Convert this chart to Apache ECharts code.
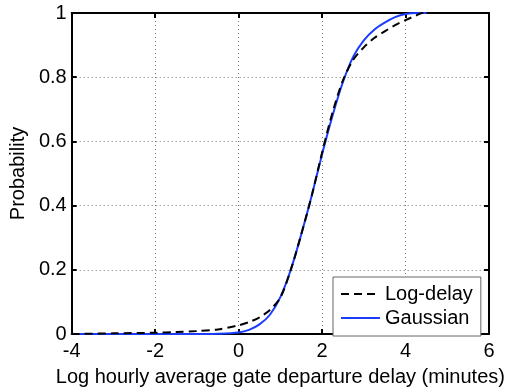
<!DOCTYPE html>
<html>
<head>
<meta charset="utf-8">
<script src="https://cdn.jsdelivr.net/npm/echarts@6/dist/echarts.min.js"></script>
<style>
html,body{margin:0;padding:0;background:#fff;}
#c{width:510px;height:392px;}
</style>
</head>
<body>
<div id="c"></div>
<script>
// Data
var logDelayX = [-4, -3, -2, -1.5, -1, -0.5, 0, 0.25, 0.5, 0.75, 1.0, 1.25, 1.5, 1.75, 2.0, 2.25, 2.5, 2.75, 3.0, 3.25, 3.5, 3.75, 4.0, 4.25, 4.4, 4.75];
var logDelayY = [0, 0.002, 0.004, 0.006, 0.009, 0.014, 0.027, 0.037, 0.052, 0.075, 0.113, 0.2, 0.31, 0.43, 0.565, 0.69, 0.79, 0.855, 0.893, 0.922, 0.943, 0.962, 0.978, 0.992, 1.0, 1.0];
var gaussX = [-4, -1, -0.5, 0, 0.25, 0.5, 0.75, 1.0, 1.25, 1.5, 1.75, 2.0, 2.25, 2.5, 2.75, 3.0, 3.25, 3.5, 3.75, 4.0, 4.25, 4.5];
var gaussY = [0, 0, 0.001, 0.005, 0.013, 0.03, 0.06, 0.115, 0.2, 0.31, 0.43, 0.56, 0.68, 0.785, 0.865, 0.915, 0.948, 0.97, 0.987, 0.997, 1.0, 1.0];
var xTicks = [-4, -2, 0, 2, 4, 6];
var yTicks = [0, 0.2, 0.4, 0.6, 0.8, 1];
var seriesNames = ['Log-delay', 'Gaussian'];
var xLabel = 'Log hourly average gate departure delay (minutes)';
var yLabel = 'Probability';

function pairs(xs, ys){ return xs.map(function(x,i){ return [x, ys[i]]; }); }

var font = 'Liberation Sans, Arial, sans-serif';
var chart = echarts.init(document.getElementById('c'), null, {renderer:'canvas'});
var axisLineStyle = {color:'#000', width:2};
var tickStyle = {show:true, inside:true, length:5, lineStyle:{color:'#000', width:2}};
chart.setOption({
  animation:false,
  backgroundColor:'#fff',
  grid:{left:69, right:21, top:13, bottom:55, containLabel:false},
  legend:{
    orient:'vertical', left:333, top:277,
    padding:[7,8,8,7], itemGap:4, itemWidth:39, itemHeight:20,
    backgroundColor:'#fff', borderColor:'#666', borderWidth:1,
    itemStyle:{opacity:0},
    lineStyle:{width:2},
    textStyle:{fontFamily:font, fontSize:20, color:'#000'},
    data:seriesNames
  },
  xAxis:[{
    type:'value', min:xTicks[0], max:xTicks[xTicks.length-1], interval:2,
    name:xLabel, nameLocation:'middle', nameGap:33,
    nameTextStyle:{fontFamily:font, fontSize:20, color:'#000'},
    axisLine:{show:true, onZero:false, lineStyle:axisLineStyle},
    axisTick:tickStyle,
    axisLabel:{fontFamily:font, fontSize:20, color:'#000', margin:7},
    splitLine:{show:true, lineStyle:{type:[1,3], color:'#777', width:1}}
  },{
    type:'value', position:'top', min:xTicks[0], max:xTicks[xTicks.length-1], interval:2,
    axisLine:{show:true, onZero:false, lineStyle:axisLineStyle},
    axisTick:tickStyle,
    axisLabel:{show:false}, splitLine:{show:false}
  }],
  yAxis:[{
    type:'value', min:yTicks[0], max:yTicks[yTicks.length-1], interval:0.2,
    name:yLabel, nameLocation:'middle', nameGap:41, nameRotate:90,
    nameTextStyle:{fontFamily:font, fontSize:20, color:'#000'},
    axisLine:{show:true, onZero:false, lineStyle:axisLineStyle},
    axisTick:tickStyle,
    axisLabel:{fontFamily:font, fontSize:20, color:'#000', margin:5,
      formatter:function(v){ return String(Math.round(v*10)/10); }},
    splitLine:{show:true, lineStyle:{type:[1,3], color:'#777', width:1}}
  },{
    type:'value', position:'right', min:yTicks[0], max:yTicks[yTicks.length-1], interval:0.2,
    axisLine:{show:true, onZero:false, lineStyle:axisLineStyle},
    axisTick:tickStyle,
    axisLabel:{show:false}, splitLine:{show:false}
  }],
  series:[{
    name:seriesNames[0], type:'line', xAxisIndex:0, yAxisIndex:0,
    data:pairs(logDelayX, logDelayY), smooth:0.3, symbol:'none', showSymbol:false,
    lineStyle:{color:'#000', width:2, type:[8,5]}, itemStyle:{color:'#000'}, z:3
  },{
    name:seriesNames[1], type:'line', xAxisIndex:0, yAxisIndex:0,
    data:pairs(gaussX, gaussY), smooth:0.3, symbol:'none', showSymbol:false,
    lineStyle:{color:'#1a3cff', width:2}, itemStyle:{color:'#1a3cff'}, z:2
  }]
});
</script>
</body>
</html>
